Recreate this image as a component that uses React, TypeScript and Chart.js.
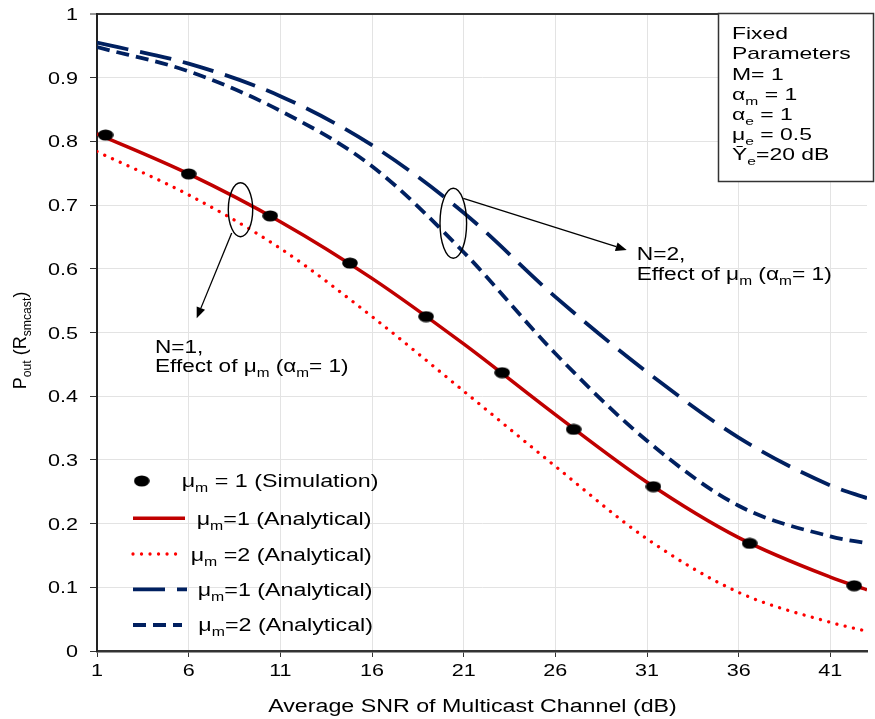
import React, { useEffect, useRef } from 'react';
import { Chart, registerables } from 'chart.js';

Chart.register(...registerables);

// ---------------- data ----------------
const X_TICKS = [1, 6, 11, 16, 21, 26, 31, 36, 41];
const X_TICK_LABELS = ['1', '6', '11', '16', '21', '26', '31', '36', '41'];
const Y_TICKS = [0, 0.1, 0.2, 0.3, 0.4, 0.5, 0.6, 0.7, 0.8, 0.9, 1];
const Y_TICK_LABELS = ['0', '0.1', '0.2', '0.3', '0.4', '0.5', '0.6', '0.7', '0.8', '0.9', '1'];

// Simulation points (N=1, mu_m = 1)
const SIM_X = [1.47, 6.0, 10.45, 14.8, 18.95, 23.1, 27.0, 31.35, 36.6, 42.3];
const SIM_Y = [0.81, 0.749, 0.683, 0.609, 0.525, 0.437, 0.348, 0.258, 0.169, 0.1025];

// Analytical curves
const AN_X = [1, 6, 11, 16, 21, 26, 31, 36, 41, 43];
const N1_MU1 = [0.812, 0.749, 0.674, 0.585, 0.482, 0.371, 0.265, 0.178, 0.116, 0.096];
const N1_MU2 = [0.784, 0.716, 0.632, 0.525, 0.408, 0.29, 0.176, 0.092, 0.045, 0.031];
const N2_MU1 = [0.955, 0.922, 0.871, 0.794, 0.688, 0.556, 0.438, 0.335, 0.26, 0.24];
const N2_MU2 = [0.948, 0.91, 0.848, 0.761, 0.626, 0.467, 0.33, 0.228, 0.18, 0.169];

const LEGEND_LABELS = [
  'μ_{m} = 1 (Simulation)',
  'μ_{m}=1 (Analytical)',
  'μ_{m} =2 (Analytical)',
  'μ_{m}=1 (Analytical)',
  'μ_{m}=2 (Analytical)',
];
const X_TITLE = 'Average SNR of Multicast Channel (dB)';
const Y_TITLE = 'P_{out} (R_{smcast})';
const FIXED_PARAMS = ['Fixed', 'Parameters', 'M= 1', 'α_{m} = 1', 'α_{e} = 1', 'μ_{e} = 0.5', 'Ȳ_{e}=20 dB'];
const NOTE_N1 = ['N=1,', 'Effect of μ_{m} (α_{m}= 1)'];
const NOTE_N2 = ['N=2,', 'Effect of μ_{m} (α_{m}= 1)'];

// ---------------- styles ----------------
const RED_DARK = '#c00000';
const RED = '#ff0000';
const NAVY = '#002060';
const FONT = '"Liberation Sans", Arial, Helvetica, sans-serif';
const SX = 1.27;

const STYLES = [
  null,
  { color: RED_DARK, width: 3.5, dash: [] as number[], cap: 'butt' as CanvasLineCap },
  { color: RED, width: 3.3, dash: [0.01, 8.5], cap: 'round' as CanvasLineCap },
  { color: NAVY, width: 3.8, dash: [32, 12], cap: 'butt' as CanvasLineCap },
  { color: NAVY, width: 3.8, dash: [13, 7], cap: 'butt' as CanvasLineCap },
];

function parseRich(s: string) {
  const segs: { t: string; sub: boolean }[] = [];
  const re = /_\{([^}]*)\}/g;
  let last = 0;
  let m: RegExpExecArray | null;
  while ((m = re.exec(s))) {
    if (m.index > last) segs.push({ t: s.slice(last, m.index), sub: false });
    segs.push({ t: m[1], sub: true });
    last = re.lastIndex;
  }
  if (last < s.length) segs.push({ t: s.slice(last), sub: false });
  return segs;
}

function drawRich(
  ctx: CanvasRenderingContext2D,
  s: string,
  x: number,
  y: number,
  size: number,
  opt: { align?: 'left' | 'center' | 'right'; sx?: number; rot?: boolean } = {}
) {
  const sx = opt.sx ?? SX;
  const segs = parseRich(s);
  const subSize = size * 0.68;
  let w = 0;
  const widths: number[] = [];
  for (const g of segs) {
    ctx.font = `${g.sub ? subSize : size}px ${FONT}`;
    const mw = ctx.measureText(g.t).width;
    widths.push(mw);
    w += mw;
  }
  ctx.save();
  ctx.translate(x, y);
  if (opt.rot) ctx.rotate(-Math.PI / 2);
  ctx.scale(sx, 1);
  let cx = opt.align === 'center' ? -w / 2 : opt.align === 'right' ? -w : 0;
  ctx.textBaseline = 'alphabetic';
  ctx.textAlign = 'left';
  ctx.fillStyle = '#000';
  segs.forEach((g, i) => {
    ctx.font = `${g.sub ? subSize : size}px ${FONT}`;
    ctx.fillText(g.t, cx, g.sub ? size * 0.3 : 0);
    cx += widths[i];
  });
  ctx.restore();
}

function makeDot(): HTMLCanvasElement {
  const c = document.createElement('canvas');
  c.width = 16;
  c.height = 12;
  const g = c.getContext('2d')!;
  g.fillStyle = '#000';
  g.beginPath();
  g.ellipse(8, 6, 7.8, 5.6, 0, 0, Math.PI * 2);
  g.fill();
  return c;
}

function arrow(ctx: CanvasRenderingContext2D, x1: number, y1: number, x2: number, y2: number) {
  ctx.save();
  ctx.strokeStyle = '#000';
  ctx.fillStyle = '#000';
  ctx.lineWidth = 1.3;
  const ang = Math.atan2(y2 - y1, x2 - x1);
  const hl = 11;
  const hw = 4.5;
  const bx = x2 - hl * Math.cos(ang);
  const by = y2 - hl * Math.sin(ang);
  ctx.beginPath();
  ctx.moveTo(x1, y1);
  ctx.lineTo(bx, by);
  ctx.stroke();
  ctx.beginPath();
  ctx.moveTo(x2, y2);
  ctx.lineTo(bx + hw * Math.sin(ang), by - hw * Math.cos(ang));
  ctx.lineTo(bx - hw * Math.sin(ang), by + hw * Math.cos(ang));
  ctx.closePath();
  ctx.fill();
  ctx.restore();
}

function ellipse(ctx: CanvasRenderingContext2D, cx: number, cy: number, rx: number, ry: number) {
  ctx.save();
  ctx.strokeStyle = '#000';
  ctx.lineWidth = 1.4;
  ctx.beginPath();
  ctx.ellipse(cx, cy, rx, ry, 0, 0, Math.PI * 2);
  ctx.stroke();
  ctx.restore();
}

export default function App() {
  const ref = useRef<HTMLCanvasElement | null>(null);

  useEffect(() => {
    document.body.style.margin = '0';
    const canvas = ref.current!;
    const dot = makeDot();

    const overlay = {
      id: 'overlay',
      afterDraw(chart: any) {
        const ctx: CanvasRenderingContext2D = chart.ctx;
        const xs = chart.scales.x;
        const ys = chart.scales.y;

        // tick labels
        X_TICKS.forEach((v, i) => {
          drawRich(ctx, X_TICK_LABELS[i], xs.getPixelForValue(v), 676, 17, { align: 'center' });
        });
        Y_TICKS.forEach((v, i) => {
          drawRich(ctx, Y_TICK_LABELS[i], 78, ys.getPixelForValue(v) + 6, 17, { align: 'right' });
        });

        // axis titles
        drawRich(ctx, X_TITLE, 472.5, 711.5, 18, { align: 'center', sx: 1.29 });
        drawRich(ctx, Y_TITLE, 25.5, 340.5, 18, { align: 'center', sx: 1, rot: true });

        // annotations
        ellipse(ctx, 240.5, 209.7, 12.2, 27);
        arrow(ctx, 231.7, 233, 196.7, 318.3);
        drawRich(ctx, NOTE_N1[0], 155, 352.5, 17.5, { sx: 1.29 });
        drawRich(ctx, NOTE_N1[1], 155, 371.7, 17.5, { sx: 1.29 });

        ellipse(ctx, 453.3, 223.3, 13.3, 35);
        arrow(ctx, 463.3, 198.3, 626.7, 250);
        drawRich(ctx, NOTE_N2[0], 636.7, 259.5, 17.5, { sx: 1.3 });
        drawRich(ctx, NOTE_N2[1], 636.7, 279.5, 17.5, { sx: 1.3 });

        // fixed parameter box
        ctx.save();
        ctx.fillStyle = '#fff';
        ctx.fillRect(718.5, 13.5, 155, 168);
        ctx.strokeStyle = '#333';
        ctx.lineWidth = 1.5;
        ctx.strokeRect(718.5, 13.5, 155, 168);
        ctx.restore();
        FIXED_PARAMS.forEach((t, i) => {
          drawRich(ctx, t, 732, 39.3 + i * 20.1, 17, { sx: 1.35 });
        });

        // legend
        const rows = [487, 525, 561, 596, 631];
        const lineY = [481, 518.3, 554, 589.3, 625];
        const lineEnd = [0, 185, 182, 187, 182];
        const textX = [181.7, 196.7, 190.7, 197.7, 198.3];
        ctx.drawImage(dot, 141.7 - 8, lineY[0] - 6);
        for (let i = 1; i < 5; i++) {
          const st = STYLES[i]!;
          ctx.save();
          ctx.strokeStyle = st.color;
          ctx.lineWidth = st.width;
          ctx.lineCap = st.cap;
          ctx.setLineDash(st.dash);
          ctx.beginPath();
          ctx.moveTo(133, lineY[i]);
          ctx.lineTo(lineEnd[i], lineY[i]);
          ctx.stroke();
          ctx.restore();
        }
        LEGEND_LABELS.forEach((t, i) => drawRich(ctx, t, textX[i], rows[i], 17.5, { sx: 1.33 }));
      },
    };

    const mk = (xv: number[], yv: number[]) => xv.map((x, i) => ({ x, y: yv[i] }));
    const lineDs = (label: string, yv: number[], i: number) => {
      const st = STYLES[i]!;
      return {
        label,
        data: mk(AN_X, yv),
        showLine: true,
        borderColor: st.color,
        borderWidth: st.width,
        borderDash: st.dash,
        borderCapStyle: st.cap,
        pointRadius: 0,
        fill: false,
        cubicInterpolationMode: 'monotone' as const,
      };
    };

    const chart = new Chart(canvas, {
      type: 'scatter',
      data: {
        datasets: [
          {
            label: 'mu_m = 1 (Simulation)',
            data: mk(SIM_X, SIM_Y),
            showLine: false,
            pointStyle: dot as any,
            pointRadius: 7,
            backgroundColor: '#000',
            borderColor: '#000',
          },
          lineDs('N=1 mu_m=1 (Analytical)', N1_MU1, 1),
          lineDs('N=1 mu_m=2 (Analytical)', N1_MU2, 2),
          lineDs('N=2 mu_m=1 (Analytical)', N2_MU1, 3),
          lineDs('N=2 mu_m=2 (Analytical)', N2_MU2, 4),
        ] as any,
      },
      options: {
        animation: false,
        responsive: false,
        devicePixelRatio: 1,
        layout: { padding: { top: 14, left: 0, right: 0, bottom: 0 } },
        plugins: { legend: { display: false }, tooltip: { enabled: false } },
        scales: {
          x: {
            type: 'linear',
            min: 1,
            max: 43,
            afterBuildTicks: (s: any) => {
              s.ticks = X_TICKS.map((v) => ({ value: v }));
            },
            afterFit: (s: any) => {
              s.height = 68;
            },
            ticks: { display: false },
            grid: { color: '#e3e3e3', lineWidth: 1, tickLength: 6, tickColor: '#333', drawTicks: true },
            border: { display: true, color: '#333', width: 2.5 },
          },
          y: {
            type: 'linear',
            min: 0,
            max: 1,
            afterBuildTicks: (s: any) => {
              s.ticks = Y_TICKS.map((v) => ({ value: v }));
            },
            afterFit: (s: any) => {
              s.width = 97;
            },
            ticks: { display: false },
            grid: {
              color: (c: any) => (c.tick && c.tick.value === 1 ? '#333' : '#e3e3e3'),
              lineWidth: (c: any) => (c.tick && c.tick.value === 1 ? 2 : 1),
              tickLength: 7,
              tickColor: '#333',
              tickWidth: 1,
              drawTicks: true,
            },
            border: { display: true, color: '#222', width: 2 },
          },
        },
      } as any,
      plugins: [overlay],
    });

    return () => chart.destroy();
  }, []);

  return <canvas ref={ref} width={875} height={719} style={{ display: 'block' }} />;
}
